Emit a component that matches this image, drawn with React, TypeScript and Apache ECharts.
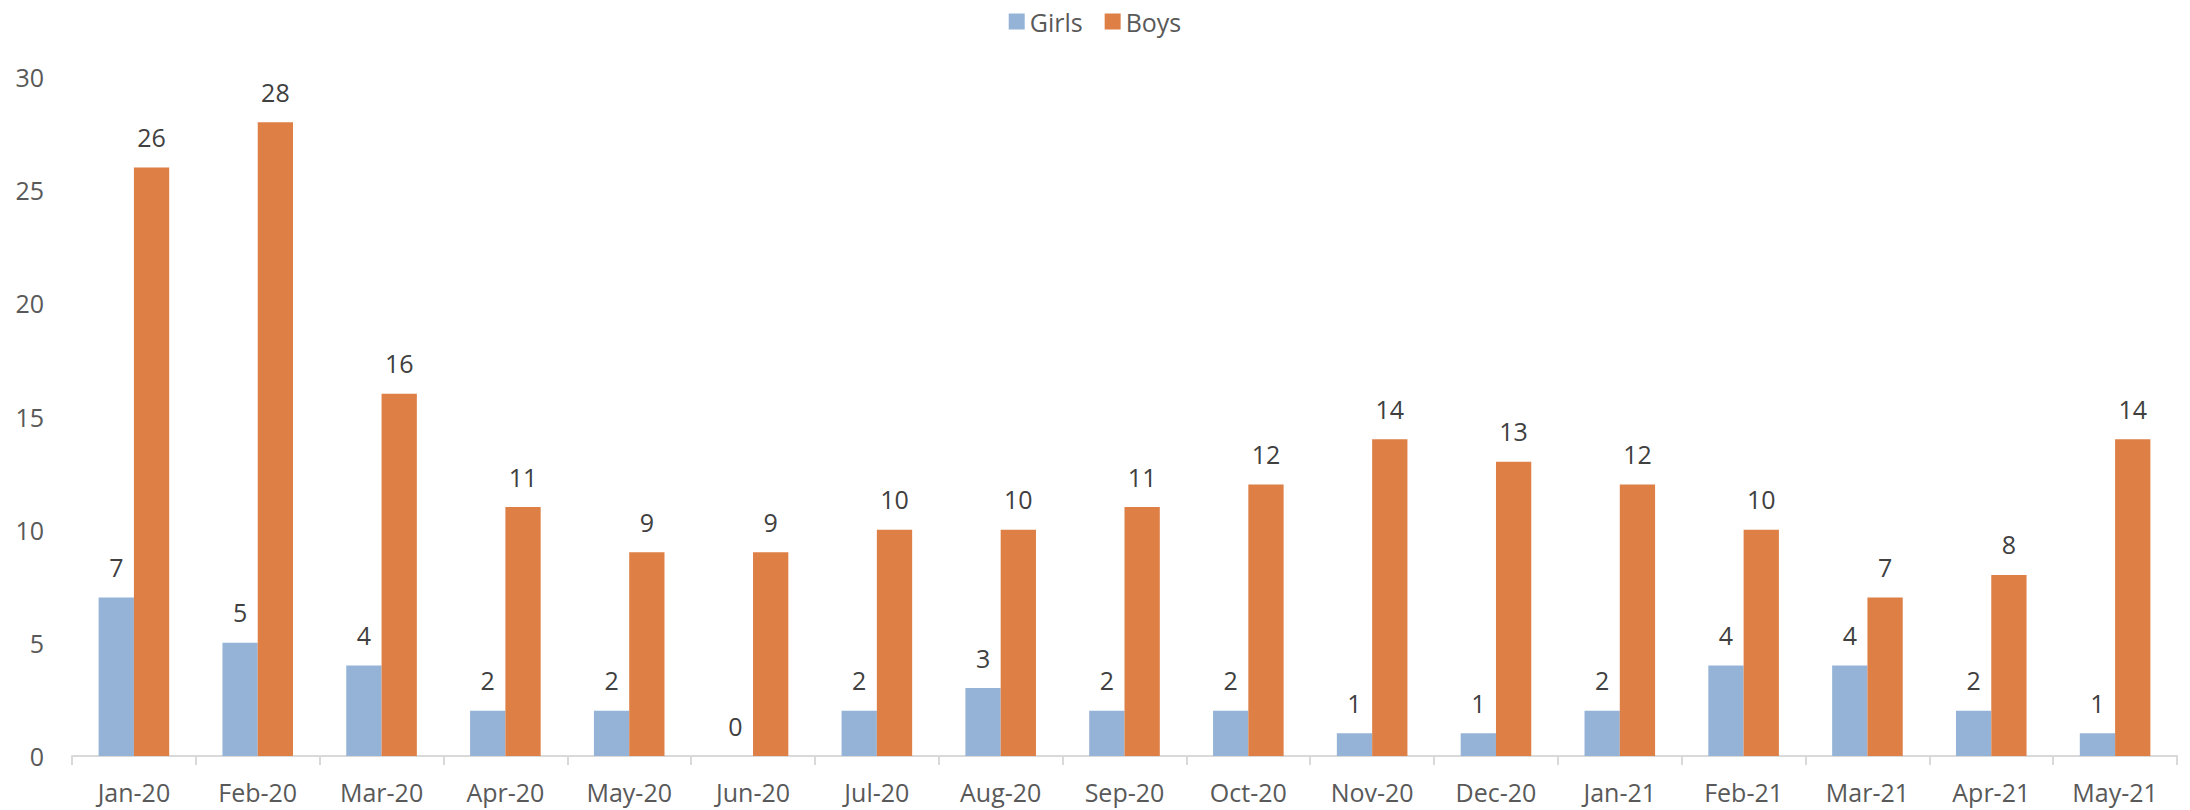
import React, { useEffect, useRef } from "react";
import * as echarts from "echarts";

const categories = ["Jan-20", "Feb-20", "Mar-20", "Apr-20", "May-20", "Jun-20", "Jul-20", "Aug-20", "Sep-20", "Oct-20", "Nov-20", "Dec-20", "Jan-21", "Feb-21", "Mar-21", "Apr-21", "May-21"];
const girls = [7, 5, 4, 2, 2, 0, 2, 3, 2, 2, 1, 1, 2, 4, 4, 2, 1];
const boys = [26, 28, 16, 11, 9, 9, 10, 10, 11, 12, 14, 13, 12, 10, 7, 8, 14];

const FONT = "'Open Sans', 'Liberation Sans', sans-serif";

export default function App() {
  const ref = useRef<HTMLDivElement>(null);
  useEffect(() => {
    if (!ref.current) return;
    const chart = echarts.init(ref.current, undefined, { renderer: "svg" });
    const label = {
      show: true,
      position: "top",
      distance: 18,
      color: "#404040",
      fontSize: 25,
      fontFamily: FONT,
    };
    chart.setOption({
      animation: false,
      backgroundColor: "#ffffff",
      legend: {
        top: 4,
        left: "center",
        itemWidth: 16,
        itemHeight: 16,
        itemGap: 22,
        icon: "rect",
        textStyle: { color: "#595959", fontSize: 25, fontFamily: FONT },
        data: ["Girls", "Boys"],
      },
      grid: { left: 72, right: 13, top: 77, bottom: 54 },
      xAxis: {
        type: "category",
        data: categories,
        axisLine: { lineStyle: { color: "#d9d9d9", width: 2 } },
        axisTick: { show: true, length: 9, lineStyle: { color: "#d9d9d9", width: 2 } },
        axisLabel: { color: "#595959", fontSize: 25, fontFamily: FONT, margin: 23 },
      },
      yAxis: {
        type: "value",
        min: 0,
        max: 30,
        interval: 5,
        splitLine: { show: false },
        axisLine: { show: false },
        axisTick: { show: false },
        axisLabel: { color: "#595959", fontSize: 25, fontFamily: FONT, margin: 28 },
      },
      series: [
        {
          name: "Girls",
          type: "bar",
          data: girls,
          barGap: "0%",
          barCategoryGap: "43%",
          itemStyle: { color: "#95B3D7" },
          label,
        },
        {
          name: "Boys",
          type: "bar",
          data: boys,
          barGap: "0%",
          barCategoryGap: "43%",
          itemStyle: { color: "#DE7F46" },
          label,
        },
      ],
    });
    return () => chart.dispose();
  }, []);
  return (
    <div
      ref={ref}
      style={{ position: "fixed", left: 0, top: 0, width: 2190, height: 810, background: "#fff" }}
    />
  );
}
